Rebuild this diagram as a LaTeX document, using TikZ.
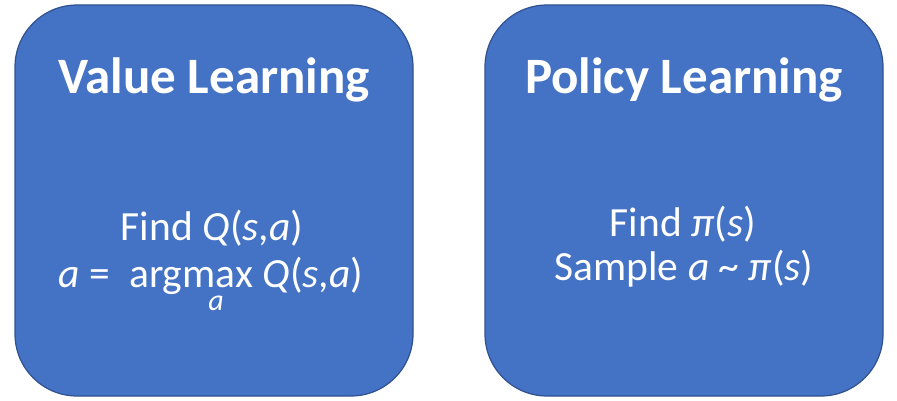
\documentclass[tikz,border=0pt]{standalone}
\usepackage{fontspec}
\setmainfont{Carlito}
\begin{document}
\begin{tikzpicture}[x=1pt,y=-1pt,
  panel/.style={draw=panelborder,fill=panelfill,line width=1.2pt,rounded corners=62pt},
  title/.style={anchor=base,text=white,font=\fontsize{51}{60}\selectfont\bfseries,inner sep=0pt},
  body/.style={anchor=base,text=white,font=\fontsize{41.5}{50}\selectfont,inner sep=0pt},
  sub/.style={anchor=base,text=white,font=\fontsize{30}{36}\selectfont\itshape,inner sep=0pt}]
\definecolor{panelfill}{HTML}{4472C4}
\definecolor{panelborder}{HTML}{2F528F}
\useasboundingbox (0,0) rectangle (897,401);
\draw[panel] (15,5) rectangle (413,396);
\draw[panel] (485,5) rectangle (883,396);
\node[title] (vt) at (214,94) {Value Learning};
\node[title] (pt) at (684,94) {Policy Learning};
\node[body] (v1) at (212,240) {Find \textit{Q}(\textit{s},\textit{a})};
\node[body] (v2) at (211,287) {\textit{a} =\ \ argmax \textit{Q}(\textit{s},\textit{a})};
\node[sub] (v3) at (216,310) {a};
\node[body] (p1) at (683,236) {Find \textit{π}(\textit{s})};
\node[body] (p2) at (684,280) {Sample \textit{a} \textasciitilde{} \textit{π}(\textit{s})};
\end{tikzpicture}
\end{document}
